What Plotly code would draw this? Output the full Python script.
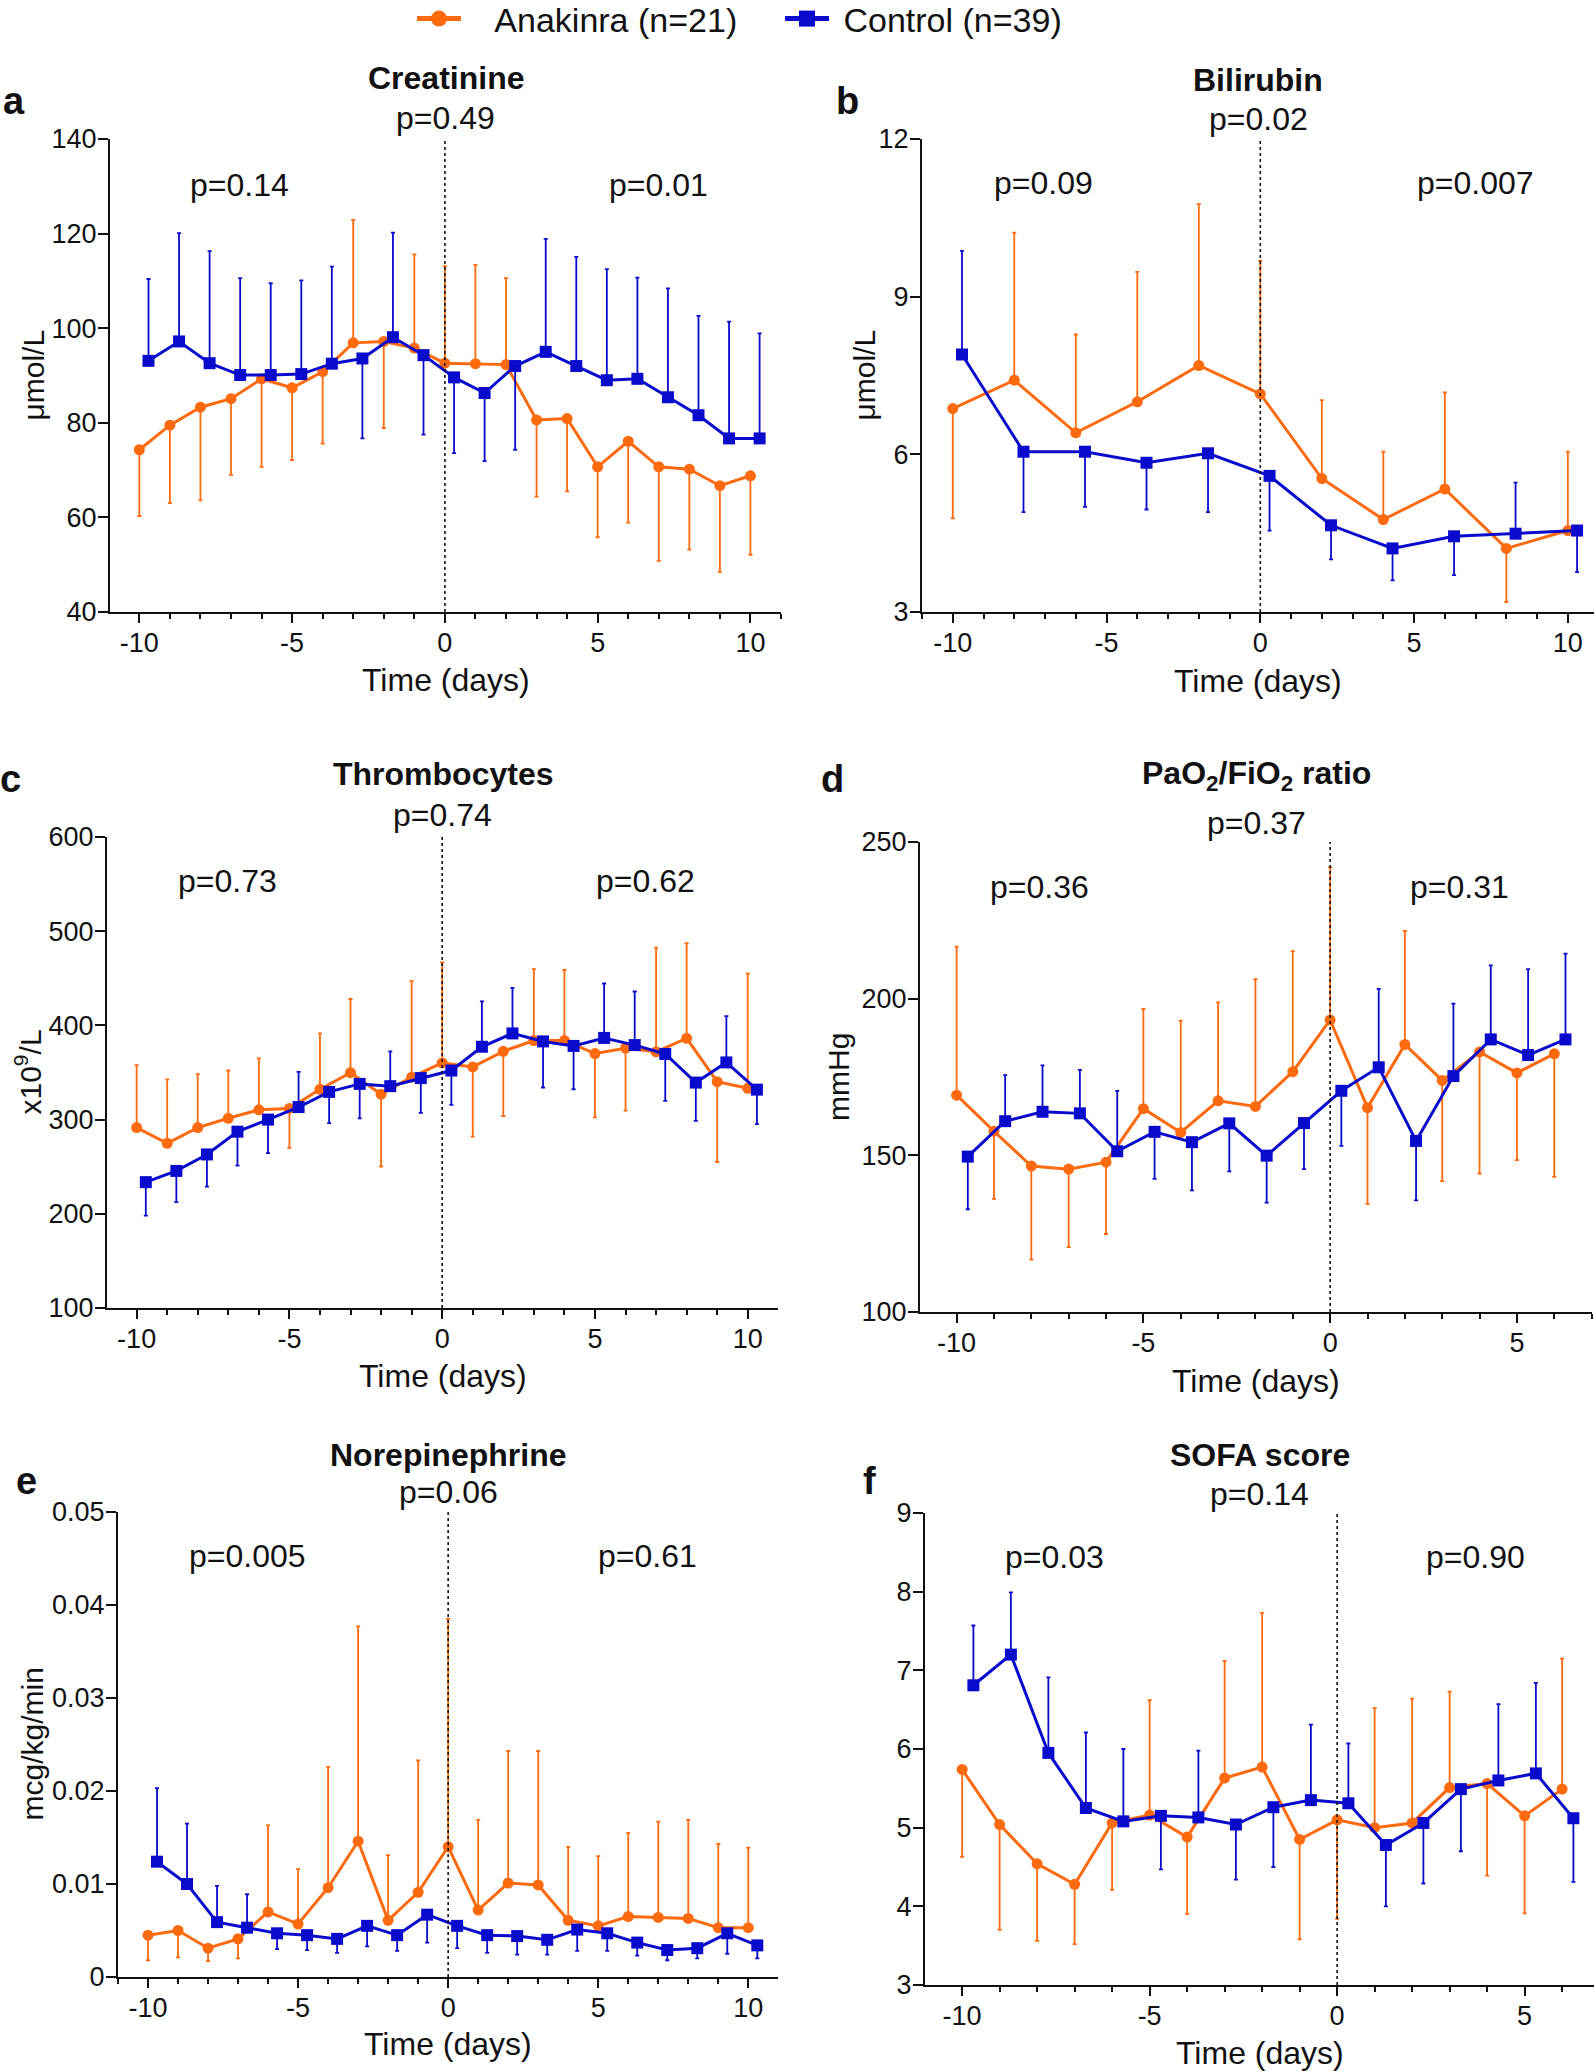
import plotly.graph_objects as go

W, H = 1594, 2071
ORANGE = "#FF6A0E"
BLUE = "#0A0ACC"
INK = "#111111"
FONT = "Arial, 'Liberation Sans', sans-serif"

# ---- data (value = group mean, *_BAR = end of the one-sided SD whisker) ----
CREAT_DAYS_ANA = [-10, -9, -8, -7, -6, -5, -4, -3, -2, -1, 0, 1, 2, 3, 4, 5, 6, 7, 8, 9, 10]
CREAT_ANA = [74.3, 79.5, 83.3, 85.1, 89.3, 87.4, 90.8, 96.9, 97.2, 95.8, 92.6, 92.5, 92.3,
             80.6, 80.9, 70.7, 76.1, 70.7, 70.2, 66.7, 68.8]
CREAT_ANA_BAR = [60.3, 63.0, 63.6, 69.0, 70.7, 72.1, 75.6, 122.9, 78.9, 115.6, 113.1, 113.4, 110.6,
                 64.4, 65.5, 55.8, 58.9, 50.8, 53.2, 48.5, 52.1]
CREAT_DAYS_CTRL = [-9.7, -8.7, -7.7, -6.7, -5.7, -4.7, -3.7, -2.7, -1.7, -0.7, 0.3, 1.3, 2.3,
                   3.3, 4.3, 5.3, 6.3, 7.3, 8.3, 9.3, 10.3]
CREAT_CTRL = [93.1, 97.2, 92.6, 90.1, 90.1, 90.3, 92.5, 93.6, 98.1, 94.3, 89.6, 86.3, 92.0,
              95.0, 92.0, 89.0, 89.3, 85.4, 81.6, 76.7, 76.7]
CREAT_CTRL_BAR = [110.4, 120.1, 116.3, 110.6, 109.5, 110.1, 113.0, 76.7, 120.2, 77.5, 73.6, 71.9, 74.3,
                  118.9, 115.1, 112.5, 110.7, 108.4, 102.6, 101.4, 98.9]

BILI_DAYS_ANA = [-10, -8, -6, -4, -2, 0, 2, 4, 6, 8, 10]
BILI_ANA = [6.87, 7.41, 6.41, 7.00, 7.69, 7.15, 5.54, 4.76, 5.34, 4.21, 4.55]
BILI_ANA_BAR = [4.78, 10.22, 8.28, 9.47, 10.76, 9.68, 7.03, 6.05, 7.18, 3.19, 6.05]
BILI_DAYS_CTRL = [-9.7, -7.7, -5.7, -3.7, -1.7, 0.3, 2.3, 4.3, 6.3, 8.3, 10.3]
BILI_CTRL = [7.90, 6.05, 6.05, 5.84, 6.02, 5.59, 4.65, 4.21, 4.44, 4.49, 4.55]
BILI_CTRL_BAR = [9.87, 4.90, 5.00, 4.95, 4.90, 4.55, 4.00, 3.60, 3.70, 5.46, 3.76]

THROMB_DAYS_ANA = [-10, -9, -8, -7, -6, -5, -4, -3, -2, -1, 0, 1, 2, 3, 4, 5, 6, 7, 8, 9, 10]
THROMB_ANA = [291.5, 274.9, 291.5, 301.4, 310.4, 311.8, 332.2, 349.8, 327.0, 345.0, 360.2, 355.9,
              372.5, 383.9, 383.9, 370.1, 375.8, 372.0, 386.3, 340.3, 333.2]
THROMB_ANA_BAR = [357.8, 342.7, 348.3, 352.1, 364.9, 270.1, 391.5, 428.0, 250.2, 446.9, 466.8, 282.0,
                  303.8, 459.7, 458.8, 302.4, 309.5, 482.5, 487.2, 255.0, 455.0]
THROMB_DAYS_CTRL = [-9.7, -8.7, -7.7, -6.7, -5.7, -4.7, -3.7, -2.7, -1.7, -0.7, 0.3, 1.3, 2.3,
                    3.3, 4.3, 5.3, 6.3, 7.3, 8.3, 9.3, 10.3]
THROMB_CTRL = [233.6, 245.5, 263.0, 287.2, 300.0, 313.3, 329.4, 337.9, 335.5, 344.1, 352.1, 377.3,
               391.5, 383.0, 378.2, 386.7, 379.1, 369.7, 339.3, 360.7, 331.8]
THROMB_CTRL_BAR = [198.1, 212.3, 228.9, 251.2, 264.5, 350.7, 296.2, 301.4, 372.5, 307.1, 315.6, 425.6,
                   439.8, 334.1, 332.2, 444.5, 436.0, 319.9, 298.6, 409.9, 295.3]

PF_DAYS_ANA = [-10, -9, -8, -7, -6, -5, -4, -3, -2, -1, 0, 1, 2, 3, 4, 5, 6]
PF_ANA = [169.2, 157.7, 146.6, 145.6, 147.8, 164.9, 157.3, 167.4, 165.6, 176.7, 193.2, 165.2,
          185.4, 173.9, 183.0, 176.3, 182.4]
PF_ANA_BAR = [216.6, 136.1, 116.7, 120.7, 124.9, 196.7, 193.0, 198.8, 206.2, 215.2, 241.9, 134.5,
              221.6, 141.8, 144.2, 148.5, 143.1]
PF_DAYS_CTRL = [-9.7, -8.7, -7.7, -6.7, -5.7, -4.7, -3.7, -2.7, -1.7, -0.7, 0.3, 1.3, 2.3, 3.3,
                4.3, 5.3, 6.3]
PF_CTRL = [149.6, 160.9, 163.9, 163.4, 151.3, 157.5, 154.2, 160.2, 149.9, 160.3, 170.6, 178.1,
           154.6, 175.3, 187.0, 182.0, 187.0]
PF_CTRL_BAR = [132.8, 175.6, 178.7, 177.3, 170.6, 142.5, 138.8, 144.9, 134.9, 145.6, 153.0, 203.1,
               135.6, 198.4, 210.6, 209.4, 214.4]

NOREPI_DAYS_ANA = [-10, -9, -8, -7, -6, -5, -4, -3, -2, -1, 0, 1, 2, 3, 4, 5, 6, 7, 8, 9, 10]
NOREPI_ANA = [0.0045, 0.0050, 0.0031, 0.0041, 0.0070, 0.0057, 0.0096, 0.0146, 0.0061, 0.0091,
              0.0140, 0.0072, 0.0101, 0.0099, 0.0061, 0.0055, 0.0065, 0.0064, 0.0063, 0.0053, 0.0053]
NOREPI_ANA_BAR = [0.0018, 0.0021, 0.0017, 0.0020, 0.0163, 0.0116, 0.0226, 0.0377, 0.0131, 0.0233,
                  0.0385, 0.0169, 0.0243, 0.0243, 0.0140, 0.0130, 0.0155, 0.0167, 0.0169, 0.0143, 0.0139]
NOREPI_DAYS_CTRL = [-9.7, -8.7, -7.7, -6.7, -5.7, -4.7, -3.7, -2.7, -1.7, -0.7, 0.3, 1.3, 2.3,
                    3.3, 4.3, 5.3, 6.3, 7.3, 8.3, 9.3, 10.3]
NOREPI_CTRL = [0.0124, 0.0100, 0.0059, 0.0053, 0.0047, 0.0045, 0.0041, 0.0055, 0.0045, 0.0067,
               0.0055, 0.0045, 0.0044, 0.0040, 0.0051, 0.0047, 0.0037, 0.0029, 0.0031, 0.0047, 0.0034]
NOREPI_CTRL_BAR = [0.0203, 0.0165, 0.0098, 0.0089, 0.0030, 0.0029, 0.0026, 0.0033, 0.0028, 0.0037,
                   0.0031, 0.0026, 0.0024, 0.0024, 0.0028, 0.0028, 0.0023, 0.0018, 0.0020, 0.0025, 0.0020]

SOFA_DAYS_ANA = [-10, -9, -8, -7, -6, -5, -4, -3, -2, -1, 0, 1, 2, 3, 4, 5, 6]
SOFA_ANA = [5.74, 5.04, 4.54, 4.28, 5.06, 5.16, 4.88, 5.63, 5.77, 4.85, 5.10, 5.00, 5.06, 5.51,
            5.56, 5.15, 5.49]
SOFA_ANA_BAR = [4.63, 3.70, 3.56, 3.52, 4.21, 6.62, 3.90, 7.12, 7.73, 3.58, 3.84, 6.52, 6.64, 6.73,
                4.39, 3.91, 7.15]
SOFA_DAYS_CTRL = [-9.7, -8.7, -7.7, -6.7, -5.7, -4.7, -3.7, -2.7, -1.7, -0.7, 0.3, 1.3, 2.3, 3.3,
                  4.3, 5.3, 6.3]
SOFA_CTRL = [6.81, 7.20, 5.95, 5.25, 5.08, 5.15, 5.13, 5.04, 5.26, 5.35, 5.31, 4.78, 5.06, 5.49,
             5.60, 5.69, 5.12]
SOFA_CTRL_BAR = [7.57, 7.99, 6.91, 6.21, 6.00, 4.47, 5.98, 4.34, 4.50, 6.31, 6.07, 4.00, 4.29, 4.70,
                 6.57, 6.84, 4.31]

# ---- panel layout, in page pixels: plot box, x range, y range, texts ----
PANELS = [
    dict(letter="a", title="Creatinine", ytitle="\u03bcmol/L", p=("p=0.49", "p=0.14", "p=0.01"),
         box=(110, 781, 139, 612), xr=(-10.96, 11.0), yr=(40, 140), dtick=20, xticks=[-10, -5, 0, 5, 10],
         data=(CREAT_DAYS_ANA, CREAT_ANA, CREAT_ANA_BAR, CREAT_DAYS_CTRL, CREAT_CTRL, CREAT_CTRL_BAR),
         letter_xy=(14, 101), title_y=78, pmid_y=118, pside=(-6.73, 7.0, 185), ytitle_x=33, xtitle_y=680),
    dict(letter="b", title="Bilirubin", ytitle="\u03bcmol/L", p=("p=0.02", "p=0.09", "p=0.007"),
         box=(922, 1594, 139, 612), xr=(-11.0, 10.85), yr=(3, 12), dtick=3, xticks=[-10, -5, 0, 5, 10],
         data=(BILI_DAYS_ANA, BILI_ANA, BILI_ANA_BAR, BILI_DAYS_CTRL, BILI_CTRL, BILI_CTRL_BAR),
         letter_xy=(847, 101), title_y=80, pmid_y=119, pside=(-7.04, 7.0, 183), ytitle_x=864, xtitle_y=681),
    dict(letter="c", title="Thrombocytes", ytitle="x10<sup>9</sup>/L", p=("p=0.74", "p=0.73", "p=0.62"),
         box=(107, 778, 837, 1308), xr=(-10.97, 10.99), yr=(100, 600), dtick=100, xticks=[-10, -5, 0, 5, 10],
         data=(THROMB_DAYS_ANA, THROMB_ANA, THROMB_ANA_BAR, THROMB_DAYS_CTRL, THROMB_CTRL, THROMB_CTRL_BAR),
         letter_xy=(10, 779), title_y=774, pmid_y=815, pside=(-7.02, 6.66, 881), ytitle_x=28, xtitle_y=1376),
    dict(letter="d", title="PaO<sub>2</sub>/FiO<sub>2</sub> ratio", ytitle="mmHg", p=("p=0.37", "p=0.36", "p=0.31"),
         box=(920, 1592, 842, 1312), xr=(-10.98, 7.01), yr=(100, 250), dtick=50, xticks=[-10, -5, 0, 5],
         data=(PF_DAYS_ANA, PF_ANA, PF_ANA_BAR, PF_DAYS_CTRL, PF_CTRL, PF_CTRL_BAR),
         letter_xy=(832, 779), title_y=775, pmid_y=823, pside=(-7.78, 3.45, 887), ytitle_x=838, xtitle_y=1381),
    dict(letter="e", title="Norepinephrine", ytitle="mcg/kg/min", p=("p=0.06", "p=0.005", "p=0.61"),
         box=(118, 778, 1512, 1977), xr=(-11.0, 10.99), yr=(0, 0.05), dtick=0.01, xticks=[-10, -5, 0, 5, 10],
         data=(NOREPI_DAYS_ANA, NOREPI_ANA, NOREPI_ANA_BAR, NOREPI_DAYS_CTRL, NOREPI_CTRL, NOREPI_CTRL_BAR),
         letter_xy=(26, 1481), title_y=1455, pmid_y=1492, pside=(-6.7, 6.63, 1556), ytitle_x=32, xtitle_y=2044),
    dict(letter="f", title="SOFA score", ytitle=None, p=("p=0.14", "p=0.03", "p=0.90"),
         box=(925, 1594, 1513, 1985), xr=(-10.99, 6.85), yr=(3, 9), dtick=1, xticks=[-10, -5, 0, 5],
         data=(SOFA_DAYS_ANA, SOFA_ANA, SOFA_ANA_BAR, SOFA_DAYS_CTRL, SOFA_CTRL, SOFA_CTRL_BAR),
         letter_xy=(869, 1481), title_y=1455, pmid_y=1494, pside=(-7.54, 3.68, 1557), ytitle_x=None, xtitle_y=2053),
]


def px(xp):
    return xp / W


def py(yp):
    return 1 - yp / H


def whiskers(mean, end):
    plus = [max(e - m, 0) for m, e in zip(mean, end)]
    minus = [max(m - e, 0) for m, e in zip(mean, end)]
    return plus, minus


def text(t, x, y, xref, yref, size, **kw):
    return dict(text=t, x=x, y=y, xref=xref, yref=yref, xanchor="center", yanchor="middle",
                showarrow=False, font=dict(family=FONT, color=INK, size=size), **kw)


fig = go.Figure()
annotations = []
shapes = []

# legend-only entries, drawn with the chunkier key symbols of the original
NBSP = "\u00a0"
for name, color, symbol, leg in [(NBSP * 3 + "Anakinra (n=21)", ORANGE, "circle", "legend"),
                                 (NBSP + "Control (n=39)", BLUE, "square", "legend2")]:
    fig.add_trace(go.Scatter(x=[None], y=[None], mode="lines+markers", name=name, legend=leg,
                             line=dict(color=color, width=5), marker=dict(symbol=symbol, size=16, color=color)))

for i, pnl in enumerate(PANELS):
    n = "" if i == 0 else str(i + 1)
    xa, ya = "x" + n, "y" + n
    days_a, val_a, bar_a, days_c, val_c, bar_c = pnl["data"]
    x0, x1, yt, yb = pnl["box"]

    for days, vals, bar, color, symbol, name in [
        (days_a, val_a, bar_a, ORANGE, "circle", "Anakinra (n=21)"),
        (days_c, val_c, bar_c, BLUE, "square", "Control (n=39)"),
    ]:
        plus, minus = whiskers(vals, bar)
        fig.add_trace(go.Scatter(
            x=days, y=vals, mode="lines+markers", name=name, xaxis=xa, yaxis=ya,
            line=dict(color=color, width=3),
            marker=dict(symbol=symbol, size=11 if symbol == "circle" else 12, color=color),
            error_y=dict(type="data", symmetric=False, array=plus, arrayminus=minus,
                         color=color, thickness=1.8, width=2),
            showlegend=False, cliponaxis=False,
        ))

    axis_common = dict(showline=True, linecolor=INK, linewidth=2, ticks="outside", tickcolor=INK,
                       tickwidth=2, showgrid=False, zeroline=False,
                       tickfont=dict(family=FONT, size=27, color=INK))
    fig.update_layout({
        "xaxis" + n: dict(axis_common, domain=[px(x0), px(x1)], range=list(pnl["xr"]), anchor=ya,
                          tickvals=pnl["xticks"], ticktext=[str(t) for t in pnl["xticks"]], ticklen=9,
                          ticklabelstandoff=-3,
                          minor=dict(dtick=1, tick0=0, ticks="outside", ticklen=5, tickwidth=2, tickcolor=INK)),
        "yaxis" + n: dict(axis_common, domain=[py(yb), py(yt)], range=list(pnl["yr"]), anchor=xa,
                          dtick=pnl["dtick"], tick0=pnl["yr"][0], ticklen=10, ticklabelstandoff=-4),
    })

    shapes.append(dict(type="line", xref=xa, yref=ya + " domain", x0=0, x1=0, y0=0, y1=1,
                       line=dict(color=INK, width=1.6, dash="dot")))

    annotations += [
        text("<b>%s</b>" % pnl["letter"], px(pnl["letter_xy"][0]), py(pnl["letter_xy"][1]), "paper", "paper", 38),
        text("<b>%s</b>" % pnl["title"], 0.5, py(pnl["title_y"]), xa + " domain", "paper", 32),
        text(pnl["p"][0], 0.5, py(pnl["pmid_y"]), xa + " domain", "paper", 32),
        text(pnl["p"][1], pnl["pside"][0], py(pnl["pside"][2]), xa, "paper", 32),
        text(pnl["p"][2], pnl["pside"][1], py(pnl["pside"][2]), xa, "paper", 32),
        text("Time (days)", 0.5, py(pnl["xtitle_y"]), xa + " domain", "paper", 32),
    ]
    if pnl["ytitle"]:
        annotations.append(text(pnl["ytitle"], px(pnl["ytitle_x"]), 0.5, "paper", ya + " domain", 30,
                                textangle=-90))

legend_common = dict(orientation="h", yanchor="middle", xanchor="left", bgcolor="rgba(0,0,0,0)",
                     font=dict(family=FONT, size=34, color=INK), itemsizing="trace", itemwidth=44)
fig.update_layout(
    width=W, height=H,
    margin=dict(l=0, r=0, t=0, b=0, pad=0, autoexpand=False),
    paper_bgcolor="white", plot_bgcolor="white",
    font=dict(family=FONT, color=INK),
    showlegend=True,
    legend=dict(legend_common, x=px(412), y=py(19)),
    legend2=dict(legend_common, x=px(780), y=py(19)),
    annotations=annotations,
    shapes=shapes,
)

fig.write_html("out.html", config={"displayModeBar": False},
               post_script="document.body.style.margin = '0';")
